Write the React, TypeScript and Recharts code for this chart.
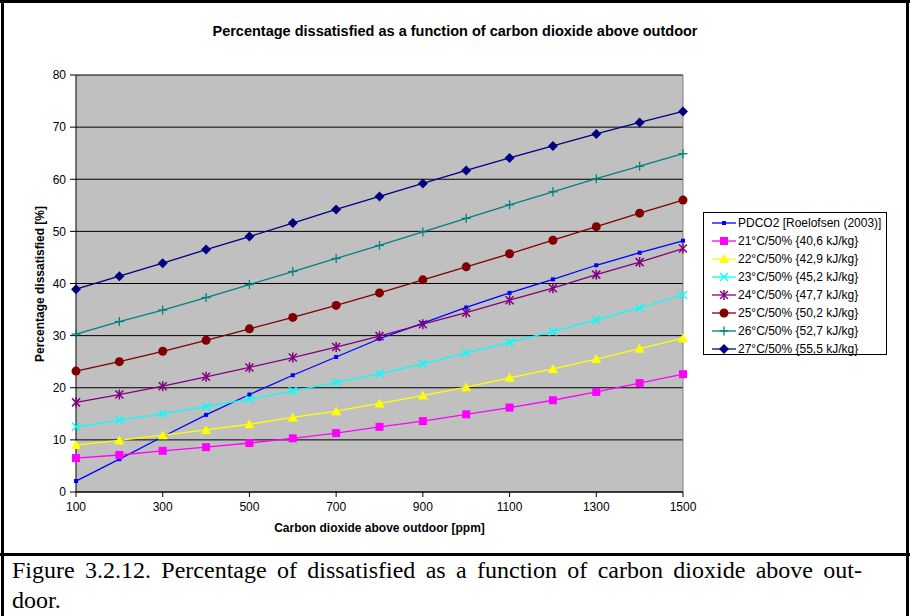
import React from 'react';
import {
    LineChart,
    Line,
    XAxis,
    YAxis,
    CartesianGrid,
    Legend,
    ReferenceLine
} from 'recharts';

// CO2 above outdoor [ppm]
const xValues = [100, 200, 300, 400, 500, 600, 700, 800, 900, 1000, 1100, 1200, 1300, 1400, 1500];
const xTicks = [100, 300, 500, 700, 900, 1100, 1300, 1500];
const yTicks = [0, 10, 20, 30, 40, 50, 60, 70, 80];

// percentage dissatisfied [%]
const pdco2 = [2.1, 6.3, 10.6, 14.8, 18.7, 22.4, 25.9, 29.4, 32.4, 35.4, 38.2, 40.8, 43.5, 45.9, 48.2];
const t21 = [6.5, 7.1, 7.9, 8.6, 9.4, 10.3, 11.3, 12.5, 13.6, 14.9, 16.2, 17.6, 19.2, 20.9, 22.6];
const t22 = [9.0, 9.9, 10.9, 11.9, 13.0, 14.3, 15.5, 17.0, 18.5, 20.1, 21.9, 23.6, 25.5, 27.5, 29.5];
const t23 = [12.5, 13.8, 15.0, 16.4, 17.8, 19.4, 21.0, 22.7, 24.6, 26.7, 28.7, 30.8, 33.0, 35.3, 37.8];
const t24 = [17.2, 18.7, 20.3, 22.1, 23.9, 25.8, 27.8, 29.9, 32.2, 34.4, 36.8, 39.1, 41.7, 44.1, 46.7];
const t25 = [23.2, 25.0, 27.0, 29.1, 31.3, 33.5, 35.8, 38.2, 40.7, 43.2, 45.7, 48.3, 50.9, 53.5, 56.0];
const t26 = [30.3, 32.7, 34.9, 37.3, 39.8, 42.3, 44.8, 47.3, 49.9, 52.5, 55.1, 57.6, 60.1, 62.5, 64.9];
const t27 = [38.9, 41.4, 43.9, 46.5, 49.0, 51.6, 54.2, 56.7, 59.2, 61.7, 64.1, 66.4, 68.7, 70.9, 73.0];

const seriesList = [
    { key: 'pdco2', name: 'PDCO2 [Roelofsen (2003)]', color: '#0000FF', shape: 'smallSquare', values: pdco2 },
    { key: 't21', name: '21°C/50% {40,6 kJ/kg}', color: '#FF00FF', shape: 'square', values: t21 },
    { key: 't22', name: '22°C/50% {42,9 kJ/kg}', color: '#FFFF00', shape: 'triangle', values: t22 },
    { key: 't23', name: '23°C/50% {45,2 kJ/kg}', color: '#00FFFF', shape: 'x', values: t23 },
    { key: 't24', name: '24°C/50% {47,7 kJ/kg}', color: '#800080', shape: 'star', values: t24 },
    { key: 't25', name: '25°C/50% {50,2 kJ/kg}', color: '#800000', shape: 'circle', values: t25 },
    { key: 't26', name: '26°C/50% {52,7 kJ/kg}', color: '#008080', shape: 'plus', values: t26 },
    { key: 't27', name: '27°C/50% {55,5 kJ/kg}', color: '#000080', shape: 'diamond', values: t27 },
];

const data = xValues.map((x, i) => {
    const row: Record<string, number> = { x };
    seriesList.forEach(s => { row[s.key] = s.values[i]; });
    return row;
});

const FONT = '"Liberation Sans", Arial, sans-serif';

function marker(shape: string, color: string, cx: number, cy: number, key?: any) {
    switch (shape) {
        case 'smallSquare':
            return <rect key={key} x={cx - 2} y={cy - 2} width={4} height={4} fill={color} />;
        case 'square':
            return <rect key={key} x={cx - 4} y={cy - 4} width={8} height={8} fill={color} />;
        case 'triangle':
            return <polygon key={key} points={`${cx},${cy - 5} ${cx + 5},${cy + 4} ${cx - 5},${cy + 4}`} fill={color} />;
        case 'x':
            return (
                <g key={key} stroke={color} strokeWidth={1.5}>
                    <line x1={cx - 4} y1={cy - 4} x2={cx + 4} y2={cy + 4} />
                    <line x1={cx - 4} y1={cy + 4} x2={cx + 4} y2={cy - 4} />
                </g>
            );
        case 'star':
            return (
                <g key={key} stroke={color} strokeWidth={1.5}>
                    <line x1={cx - 4} y1={cy - 4} x2={cx + 4} y2={cy + 4} />
                    <line x1={cx - 4} y1={cy + 4} x2={cx + 4} y2={cy - 4} />
                    <line x1={cx} y1={cy - 5} x2={cx} y2={cy + 5} />
                </g>
            );
        case 'circle':
            return <circle key={key} cx={cx} cy={cy} r={4.5} fill={color} />;
        case 'plus':
            return (
                <g key={key} stroke={color} strokeWidth={1.3}>
                    <line x1={cx - 4.5} y1={cy} x2={cx + 4.5} y2={cy} />
                    <line x1={cx} y1={cy - 4.5} x2={cx} y2={cy + 4.5} />
                </g>
            );
        case 'diamond':
            return <polygon key={key} points={`${cx},${cy - 5} ${cx + 5},${cy} ${cx},${cy + 5} ${cx - 5},${cy}`} fill={color} />;
        default:
            return <g key={key} />;
    }
}

const LegendBox = () => (
    <div style={{
        border: '1px solid #000',
        background: '#fff',
        width: 184,
        height: 143,
        boxSizing: 'border-box',
        paddingTop: 1,
        fontFamily: FONT,
        fontSize: 12,
        color: '#000',
    }}>
        {seriesList.map(s => (
            <div key={s.key} style={{ display: 'flex', alignItems: 'center', height: 18 }}>
                <svg width={34} height={18} style={{ flex: 'none' }}>
                    <line x1={8} y1={9} x2={32} y2={9} stroke={s.color} strokeWidth={1.3} />
                    {marker(s.shape, s.color, 20, 9)}
                </svg>
                <span style={{ whiteSpace: 'nowrap' }}>{s.name}</span>
            </div>
        ))}
    </div>
);

const App: React.FC = () => {
    return (
        <div style={{ position: 'absolute', left: 0, top: 0, width: 910, height: 616, background: '#fff', overflow: 'hidden' }}>
            <LineChart
                width={910}
                height={556}
                data={data}
                margin={{ top: 75, right: 227, left: 36, bottom: 34 }}
            >
                <CartesianGrid vertical={false} stroke="#000" fill="#C0C0C0" fillOpacity={1} horizontalValues={yTicks} />
                <XAxis
                    dataKey="x"
                    type="number"
                    domain={[100, 1500]}
                    ticks={xTicks}
                    height={30}
                    stroke="#000"
                    tickSize={5}
                    tickMargin={5}
                    tick={{ fill: '#000', fontSize: 12, fontFamily: FONT }}
                />
                <YAxis
                    type="number"
                    domain={[0, 80]}
                    ticks={yTicks}
                    width={40}
                    stroke="#000"
                    tickSize={6}
                    tickMargin={4}
                    tick={{ fill: '#000', fontSize: 12, fontFamily: FONT }}
                />
                <ReferenceLine x={1500} stroke="#808080" />
                <Legend
                    layout="horizontal"
                    verticalAlign="middle"
                    align="center"
                    content={() => <LegendBox />}
                    wrapperStyle={{ left: 703, top: 212, width: 184, height: 143 }}
                />
                {seriesList.map(s => (
                    <Line
                        key={s.key}
                        type="linear"
                        dataKey={s.key}
                        name={s.name}
                        stroke={s.color}
                        strokeWidth={1.3}
                        isAnimationActive={false}
                        dot={(p: any) => marker(s.shape, s.color, p.cx, p.cy, `${s.key}-${p.index}`)}
                        activeDot={false}
                    />
                ))}
            </LineChart>

            {/* titles */}
            <div style={{ position: 'absolute', left: 0, width: 910, top: 23, textAlign: 'center', fontFamily: FONT, fontSize: 14.5, fontWeight: 'bold' }}>
                Percentage dissatisfied as a function of carbon dioxide above outdoor
            </div>
            <div style={{ position: 'absolute', left: 76, width: 607, top: 521, textAlign: 'center', fontFamily: FONT, fontSize: 12, fontWeight: 'bold' }}>
                Carbon dioxide above outdoor [ppm]
            </div>
            <div style={{
                position: 'absolute', left: 40, top: 284, width: 300, marginLeft: -150, marginTop: -7,
                textAlign: 'center', fontFamily: FONT, fontSize: 12, fontWeight: 'bold',
                transform: 'rotate(-90deg)', lineHeight: '14px'
            }}>
                Percentage dissatisfied [%]
            </div>

            {/* frame */}
            <div style={{ position: 'absolute', left: 0, top: 0, width: 910, height: 3, background: '#000' }} />
            <div style={{ position: 'absolute', left: 1, top: 0, width: 3, height: 616, background: '#000' }} />
            <div style={{ position: 'absolute', left: 906, top: 0, width: 3, height: 616, background: '#000' }} />
            <div style={{ position: 'absolute', left: 0, top: 553, width: 910, height: 3, background: '#000' }} />

            {/* caption */}
            <div style={{
                position: 'absolute', left: 12, top: 555, width: 850,
                fontFamily: '"Liberation Serif", "Times New Roman", serif', fontSize: 24, lineHeight: '30px', color: '#000'
            }}>
                <div style={{ textAlign: 'justify', textAlignLast: 'justify' }}>
                    Figure 3.2.12. Percentage of dissatisfied as a function of carbon dioxide above out-
                </div>
                <div>door.</div>
            </div>
        </div>
    );
};

export default App;
